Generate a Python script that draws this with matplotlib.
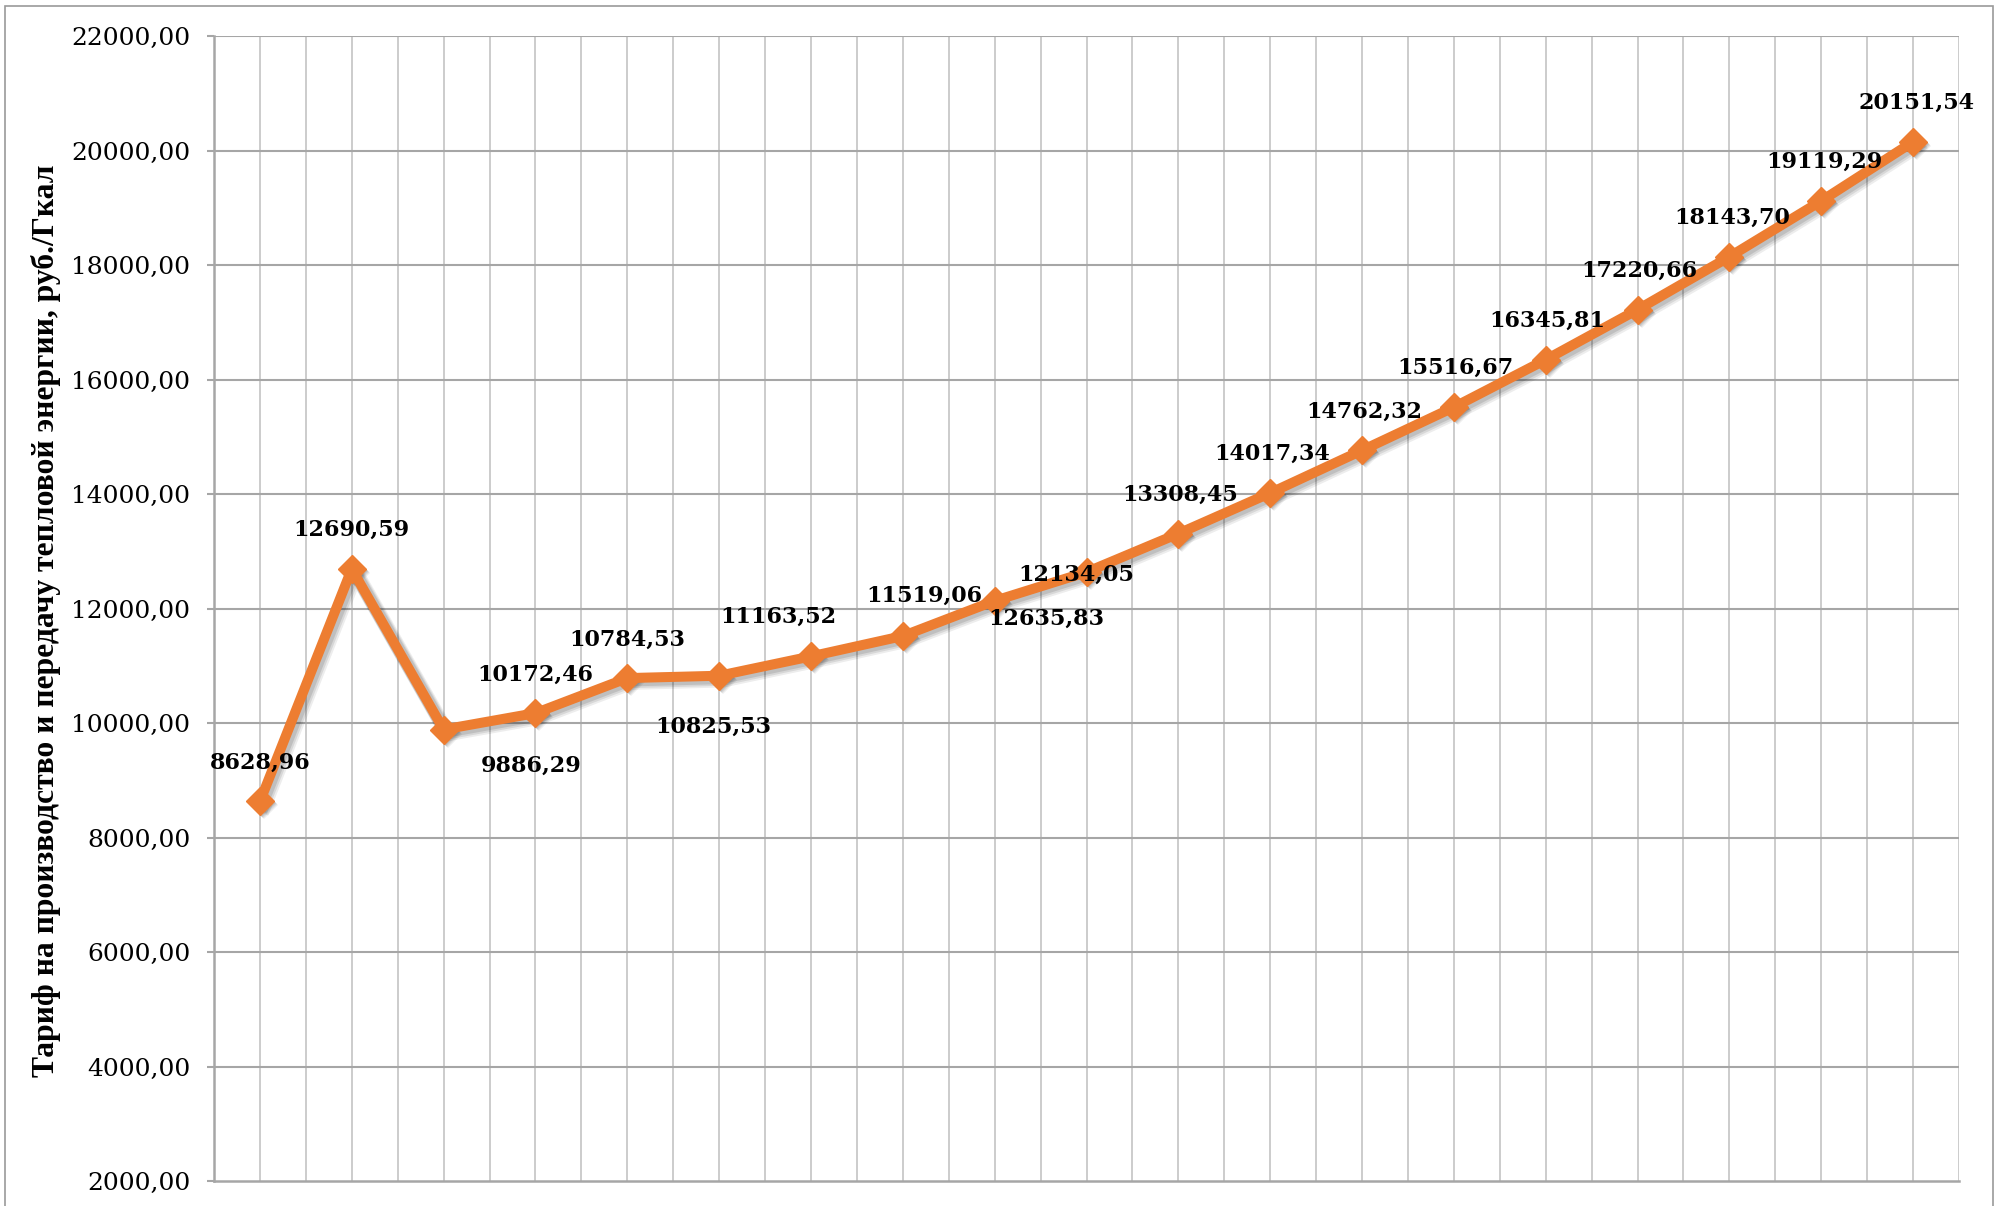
import numpy as np
import matplotlib
matplotlib.use('Agg')
import matplotlib.pyplot as plt
import matplotlib.transforms as mtransforms
from matplotlib.patches import Rectangle

# tariff values, rub/Gcal (19 periods, no category labels visible)
values = [8628.96, 12690.59, 9886.29, 10172.46, 10784.53, 10825.53, 11163.52,
          11519.06, 12134.05, 12635.83, 13308.45, 14017.34, 14762.32, 15516.67,
          16345.81, 17220.66, 18143.70, 19119.29, 20151.54]
# label offsets in pixels (dx, dy) relative to each point
label_dx = [0, 0, 88, 0, 0, -6, -33, 22, 82, -40, 2, 2, 2, 2, 2, 2, 3, 3, 3]
label_dy = [39, 39, -36, 38, 38, -51, 40, 40, 26, -47, 39, 39, 39, 39, 39, 39, 39, 39, 39]
yticks = np.arange(2000, 22001, 2000)
ylabel = 'Тариф на производство и передачу тепловой энергии, руб./Гкал'

orange = '#ED7D31'

fig = plt.figure(figsize=(19.95, 12.06), dpi=100)
ax = fig.add_axes([214/1995, 25/1206, (1959-214)/1995, (1181-36)/1206])

x = np.arange(len(values))

# soft drop shadow under the series
for k, a in [(4, 0.07), (3, 0.09), (2, 0.11)]:
    shadow = mtransforms.offset_copy(ax.transData, fig=fig, x=k, y=-k, units='dots')
    ax.plot(x, values, color='k', alpha=a, lw=7.2 + k, marker='D', ms=14, mew=0,
            transform=shadow, zorder=4, solid_joinstyle='round')

ax.plot(x, values, color=orange, lw=7.2, marker='D', ms=14, mfc=orange, mec=orange,
        mew=1.0, zorder=5, solid_joinstyle='round')

for i, v in enumerate(values):
    ax.annotate('{:.2f}'.format(v).replace('.', ','), (i, v),
                xytext=(label_dx[i], label_dy[i]), textcoords='offset pixels',
                ha='center', va='center', fontsize=16, fontweight='bold',
                family='DejaVu Serif', color='black', zorder=6)

ax.set_xlim(-0.5, len(values) - 0.5)
ax.set_ylim(2000, 22000)
ax.set_yticks(yticks)
ax.set_yticklabels(['{:.2f}'.format(t).replace('.', ',') for t in yticks],
                   family='DejaVu Serif', fontsize=18)
ax.set_xticks([])

# vertical grid every half category
for gx in np.arange(-0.5, len(values), 0.5):
    ax.axvline(gx, color='#c8c8c8', lw=1.3, zorder=1)
for gy in yticks[1:]:
    ax.axhline(gy, color='#a6a6a6', lw=1.5, zorder=2)

for s in ['top', 'right']:
    ax.spines[s].set_visible(False)
for s in ['left', 'bottom']:
    ax.spines[s].set_color('#a6a6a6')
    ax.spines[s].set_linewidth(1.8)
ax.tick_params(axis='y', length=5, width=1.5, color='#a6a6a6', pad=12)

fig.text(46/1995, 1 - 621/1206, ylabel, rotation=90, ha='center', va='center',
         fontsize=22.8, fontweight='bold', family='Liberation Serif')

# outer chart frame
fig.patches.append(Rectangle((5/1995, -0.05), (1993-5)/1995, 1.05 - 6/1206,
                             transform=fig.transFigure, fill=False,
                             edgecolor='#9a9a9a', lw=1.2))

fig.savefig('out.png', dpi=100)
